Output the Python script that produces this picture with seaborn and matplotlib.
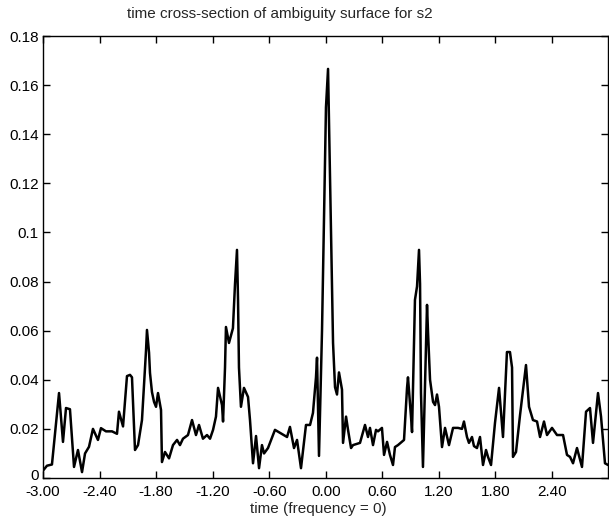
import matplotlib
matplotlib.use("Agg")
import matplotlib.pyplot as plt
import matplotlib.transforms as mtransforms
import seaborn as sns
import pandas as pd
import numpy as np

time_vals = [
    -3.000, -2.958, -2.905, -2.830, -2.788, -2.756, -2.714, -2.671, -2.629, -2.586,
    -2.554, -2.512, -2.470, -2.417, -2.385, -2.332, -2.268, -2.215, -2.194, -2.151,
    -2.109, -2.077, -2.056, -2.024, -1.992, -1.950, -1.907, -1.897, -1.875, -1.865,
    -1.844, -1.822, -1.801, -1.780, -1.748, -1.738, -1.706, -1.663, -1.621, -1.578,
    -1.547, -1.515, -1.462, -1.419, -1.377, -1.345, -1.303, -1.260, -1.228, -1.196,
    -1.165, -1.143, -1.101, -1.090, -1.069, -1.059, -1.027, -0.985, -0.963, -0.942,
    -0.931, -0.921, -0.900, -0.868, -0.825, -0.804, -0.772, -0.740, -0.708, -0.677,
    -0.655, -0.613, -0.539, -0.411, -0.380, -0.337, -0.305, -0.263, -0.210, -0.167,
    -0.136, -0.104, -0.093, -0.072, -0.040, 0.002, 0.024, 0.077, 0.098, 0.119,
    0.140, 0.172, 0.183, 0.215, 0.236, 0.268, 0.289, 0.363, 0.416, 0.448,
    0.469, 0.501, 0.533, 0.554, 0.596, 0.618, 0.650, 0.681, 0.713, 0.734,
    0.766, 0.830, 0.862, 0.872, 0.904, 0.915, 0.946, 0.968, 0.989, 1.000,
    1.010, 1.031, 1.074, 1.085, 1.106, 1.138, 1.159, 1.180, 1.201, 1.233,
    1.265, 1.307, 1.350, 1.403, 1.445, 1.466, 1.498, 1.519, 1.551, 1.572,
    1.604, 1.636, 1.668, 1.700, 1.721, 1.753, 1.795, 1.838, 1.880, 1.922,
    1.954, 1.976, 1.986, 2.018, 2.061, 2.124, 2.156, 2.198, 2.241, 2.273,
    2.315, 2.347, 2.400, 2.453, 2.517, 2.559, 2.591, 2.623, 2.665, 2.718,
    2.761, 2.803, 2.835, 2.888, 2.920, 2.962, 2.994,
]

ambiguity_vals = [
    0.0030, 0.0050, 0.0055, 0.0346, 0.0147, 0.0285, 0.0280, 0.0045, 0.0114, 0.0024,
    0.0100, 0.0127, 0.0200, 0.0155, 0.0203, 0.0190, 0.0190, 0.0180, 0.0270, 0.0210,
    0.0415, 0.0420, 0.0410, 0.0114, 0.0134, 0.0236, 0.0520, 0.0603, 0.0510, 0.0428,
    0.0350, 0.0310, 0.0290, 0.0346, 0.0277, 0.0065, 0.0106, 0.0080, 0.0134, 0.0155,
    0.0134, 0.0160, 0.0175, 0.0236, 0.0175, 0.0216, 0.0160, 0.0175, 0.0160, 0.0196,
    0.0250, 0.0367, 0.0297, 0.0230, 0.0450, 0.0615, 0.0550, 0.0610, 0.0790, 0.0929,
    0.0725, 0.0450, 0.0290, 0.0367, 0.0330, 0.0236, 0.0060, 0.0171, 0.0040, 0.0134,
    0.0100, 0.0122, 0.0196, 0.0167, 0.0208, 0.0122, 0.0155, 0.0040, 0.0216, 0.0216,
    0.0265, 0.0410, 0.0490, 0.0090, 0.0600, 0.1510, 0.1666, 0.0550, 0.0370, 0.0340,
    0.0430, 0.0360, 0.0143, 0.0250, 0.0196, 0.0122, 0.0134, 0.0143, 0.0216, 0.0167,
    0.0204, 0.0134, 0.0196, 0.0190, 0.0204, 0.0094, 0.0147, 0.0094, 0.0053, 0.0126,
    0.0134, 0.0155, 0.0367, 0.0410, 0.0250, 0.0187, 0.0725, 0.0780, 0.0929, 0.0790,
    0.0346, 0.0045, 0.0705, 0.0590, 0.0400, 0.0310, 0.0297, 0.0340, 0.0290, 0.0126,
    0.0204, 0.0134, 0.0204, 0.0204, 0.0200, 0.0230, 0.0167, 0.0143, 0.0167, 0.0130,
    0.0122, 0.0167, 0.0053, 0.0114, 0.0086, 0.0053, 0.0224, 0.0367, 0.0167, 0.0513,
    0.0513, 0.0450, 0.0086, 0.0106, 0.0257, 0.0460, 0.0290, 0.0236, 0.0230, 0.0167,
    0.0230, 0.0175, 0.0204, 0.0175, 0.0175, 0.0094, 0.0086, 0.0060, 0.0122, 0.0045,
    0.0270, 0.0285, 0.0143, 0.0346, 0.0250, 0.0060, 0.0053,
]

x_ticks = [-3.0, -2.4, -1.8, -1.2, -0.6, 0.0, 0.6, 1.2, 1.8, 2.4]
x_tick_labels = ["-3.00", "-2.40", "-1.80", "-1.20", "-0.60", "0.00", "0.60", "1.20", "1.80", "2.40"]
y_ticks = [0, 0.02, 0.04, 0.06, 0.08, 0.1, 0.12, 0.14, 0.16, 0.18]
y_tick_labels = ["0", "0.02", "0.04", "0.06", "0.08", "0.1", "0.12", "0.14", "0.16", "0.18"]

df = pd.DataFrame({"time": time_vals, "amb": ambiguity_vals})

sns.set_style("ticks")
plt.rcParams["font.family"] = ["Liberation Sans", "DejaVu Sans"]

fig = plt.figure(figsize=(6.09, 5.21), dpi=100)
ax = fig.add_axes([43 / 609, 43 / 521, 565 / 609, 442 / 521])

sns.lineplot(data=df, x="time", y="amb", ax=ax, color="black", linewidth=1.8,
             sort=False, estimator=None)

ax.set_xlim(-3.0, 2.994)
ax.set_ylim(0, 0.18)
ax.set_xticks(x_ticks)
ax.set_xticklabels(x_tick_labels)
ax.set_yticks(y_ticks)
ax.set_yticklabels(y_tick_labels)
ax.tick_params(direction="in", length=5, width=1, labelsize=11, colors="black",
               top=True, right=True)
ax.tick_params(axis="x", pad=5)
ax.tick_params(axis="y", pad=3)
for s in ax.spines.values():
    s.set_visible(True)
    s.set_color("black")
    s.set_linewidth(1.0)

# nudge the "0" y label up slightly so it does not touch "-3.00"
zero_lbl = ax.get_yticklabels()[0]
zero_lbl.set_transform(zero_lbl.get_transform() +
                       mtransforms.ScaledTranslation(0, 3 / 100, fig.dpi_scale_trans))

ax.set_title("time cross-section of ambiguity surface for s2", fontsize=11,
             x=0.42, y=1.0, pad=13)
ax.set_xlabel("time (frequency = 0)", fontsize=11)
ax.xaxis.set_label_coords(0.487, -0.054)
ax.set_ylabel("")

fig.savefig("out.png", dpi=100, facecolor="white")
